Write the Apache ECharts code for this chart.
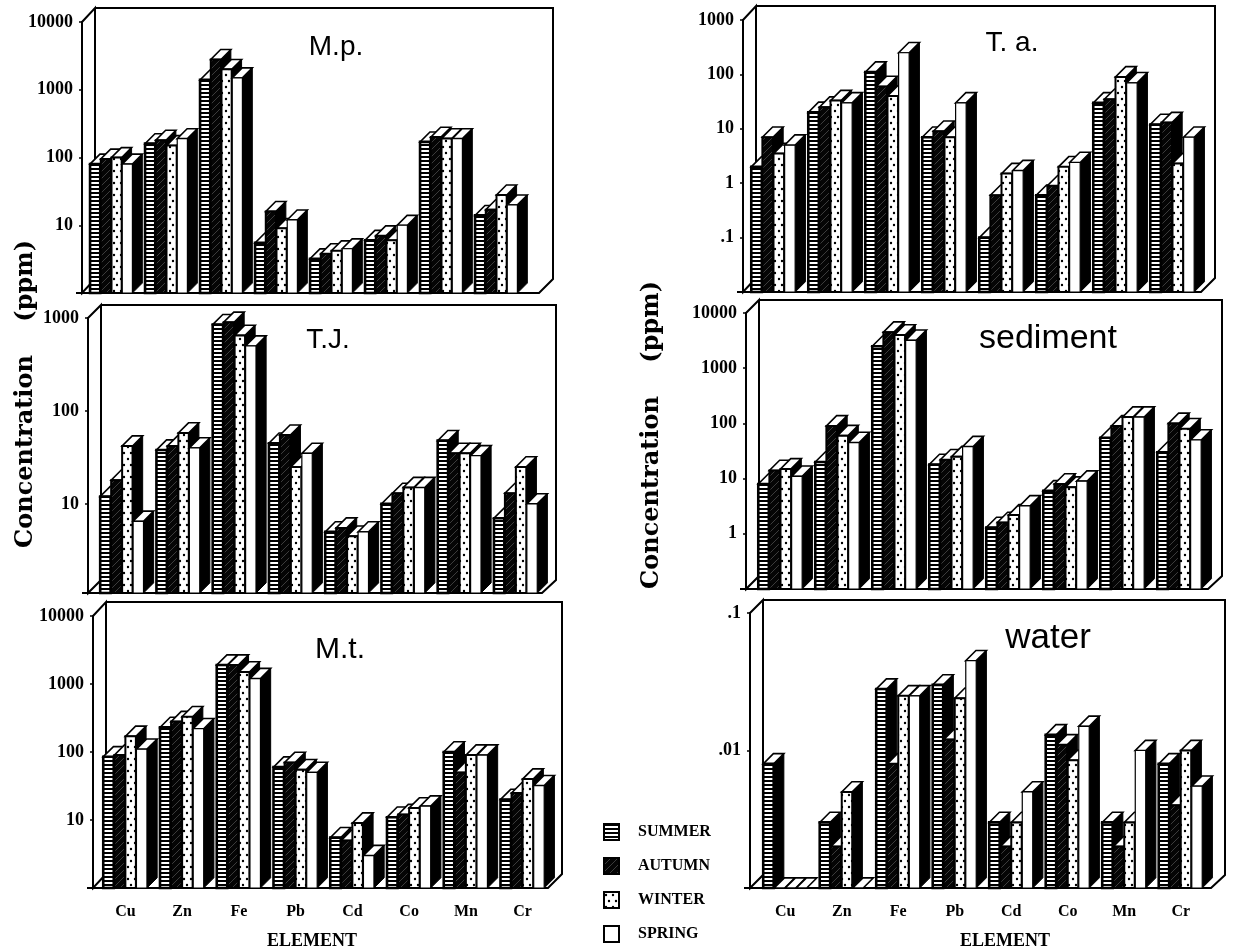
<!DOCTYPE html>
<html><head><meta charset="utf-8">
<style>html,body{margin:0;padding:0;background:#fff}#c{width:1233px;height:949px}</style>
<script src="https://cdn.jsdelivr.net/npm/echarts@6/dist/echarts.min.js"></script>
</head><body><div id="c"></div>
<script>
const elements = ['Cu','Zn','Fe','Pb','Cd','Co','Mn','Cr'];
const seasons = ['SUMMER','AUTUMN','WINTER','SPRING'];

const mpSummer = [80,160,1400,5.5,3.2,6,170,14];
const mpAutumn = [95,180,2800,16,3.8,7,200,17];
const mpWinter = [100,150,2000,9,4.2,6,190,28];
const mpSpring = [80,190,1500,12,4.5,10,190,20];
const mpTicks = [10,100,1000,10000];

const tjSummer = [12,38,850,45,5,10,48,7];
const tjAutumn = [18,42,900,55,5.5,13,35,13];
const tjWinter = [42,58,650,25,4.5,15,35,25];
const tjSpring = [6.5,40,500,35,5,15,33,10];
const tjTicks = [10,100,1000];

const mtSummer = [85,230,1900,60,5.5,11,100,20];
const mtAutumn = [90,280,1900,70,5,12,50,25];
const mtWinter = [170,330,1500,55,9,15,90,40];
const mtSpring = [110,220,1200,50,3,16,90,32];
const mtTicks = [10,100,1000,10000];

const taSummer = [2,20,110,7,0.1,0.6,30,12];
const taAutumn = [7,25,60,9,0.6,0.9,35,13];
const taWinter = [3.5,33,40,7,1.5,2,90,2.3];
const taSpring = [5,30,250,30,1.7,2.4,70,7];
const taTicks = [0.1,1,10,100,1000];

const sdSummer = [8,20,2500,18,1.3,6,55,30];
const sdAutumn = [14,90,4500,22,1.6,8,90,100];
const sdWinter = [15,60,4000,25,2.2,7,130,80];
const sdSpring = [11,45,3200,38,3.2,9,130,50];
const sdTicks = [1,10,100,1000,10000];

const wtSummer = [0.008,0.003,0.028,0.03,0.003,0.013,0.003,0.008];
const wtAutumn = [0.001,0.002,0.008,0.012,0.002,0.011,0.002,0.004];
const wtWinter = [0.001,0.005,0.025,0.024,0.003,0.0085,0.003,0.01];
const wtSpring = [0.001,0.001,0.025,0.045,0.005,0.015,0.01,0.0055];
const wtTicks = [0.01,0.1];

const panels = [
  {title:'M.p.',  s:[mpSummer,mpAutumn,mpWinter,mpSpring], ticks:mpTicks, min:1,    max:10000, axisX:82,  left:84,  width:440, top:22,  bottom:293, rightX:553, backTop:8,   tx:336, ty:47,  fs:28, labels:false, namePad:[0,0,0,0]},
  {title:'T.J.',  s:[tjSummer,tjAutumn,tjWinter,tjSpring], ticks:tjTicks, min:1.1,  max:1000,  axisX:88,  left:94,  width:450, top:318, bottom:593, rightX:556, backTop:305, tx:328, ty:340, fs:28, labels:false, namePad:[0,0,0,0]},
  {title:'M.t.',  s:[mtSummer,mtAutumn,mtWinter,mtSpring], ticks:mtTicks, min:1,    max:10000, axisX:93,  left:97,  width:454, top:616, bottom:888, rightX:562, backTop:602, tx:340, ty:650, fs:30, labels:true,  namePad:[0,24,0,0]},
  {title:'T. a.', s:[taSummer,taAutumn,taWinter,taSpring], ticks:taTicks, min:0.01, max:1000,  axisX:743, left:745, width:456, top:20,  bottom:292, rightX:1215,backTop:6,   tx:1012,ty:43,  fs:28, labels:false, namePad:[0,0,0,0]},
  {title:'sediment',s:[sdSummer,sdAutumn,sdWinter,sdSpring],ticks:sdTicks,min:0.1,  max:10000, axisX:746, left:752, width:456, top:313, bottom:589, rightX:1222,backTop:300, tx:1048,ty:339, fs:34, labels:false, namePad:[0,0,0,0]},
  {title:'water', s:[wtSummer,wtAutumn,wtWinter,wtSpring], ticks:wtTicks, min:0.001,max:0.1,   axisX:750, left:757, width:452, top:613, bottom:888, rightX:1225,backTop:600, tx:1048,ty:638, fs:35, labels:true,  namePad:[0,0,0,44]}
];

function canvas(w,h,draw){const c=document.createElement('canvas');c.width=w;c.height=h;draw(c.getContext('2d'));return c;}
const fills = [
  {image:canvas(4,4,g=>{g.fillStyle='#fff';g.fillRect(0,0,4,4);g.fillStyle='#000';g.fillRect(0,0,4,2);}),repeat:'repeat'},
  {image:canvas(7,7,g=>{g.fillStyle='#050505';g.fillRect(0,0,7,7);g.strokeStyle='#3c3c3c';g.lineWidth=1;g.beginPath();g.moveTo(0,7);g.lineTo(7,0);g.stroke();}),repeat:'repeat'},
  {image:canvas(7,12,g=>{g.fillStyle='#fff';g.fillRect(0,0,7,12);g.fillStyle='#000';g.beginPath();g.arc(2,3,1.2,0,7);g.arc(5,9,1.2,0,7);g.fill();}),repeat:'repeat'},
  '#fff'
];

function barRenderer(panel, season){
  return function(params, api){
    const cat = api.value(0), val = api.value(1);
    const top = api.coord([cat,val]);
    const base = api.coord([cat,panel.min]);
    const band = api.size([1,0])[0];
    const step = band*0.195, w = step*0.95, d = band*0.18;
    const x = top[0]-2*step+season*step, y = top[1], b = base[1];
    const children = [];
    if (b-y>0.5) children.push({type:'polygon',shape:{points:[[x+w,y],[x+w+d,y-d],[x+w+d,b-d],[x+w,b]]},style:{fill:'#000',stroke:'#000',lineWidth:1}});
    children.push({type:'polygon',shape:{points:[[x,y],[x+w,y],[x+w+d,y-d],[x+d,y-d]]},style:{fill:'#fff',stroke:'#000',lineWidth:1.6}});
    if (b-y>0.5) children.push({type:'rect',shape:{x:x,y:y,width:w,height:b-y},style:{fill:fills[season],stroke:'#000',lineWidth:season===0?2.6:(season===3?1.2:2)}});
    return {type:'group',children:children};
  };
}
function frameRenderer(panel){
  return function(params){
    const c = params.coordSys, bot=c.y+c.height, ax=panel.axisX;
    const bx=ax+13, dy=c.y-panel.backTop, fr=panel.rightX-14;
    const line={fill:null,stroke:'#000',lineWidth:2};
    return {type:'group',children:[
      {type:'polygon',shape:{points:[[ax,c.y],[bx,panel.backTop],[bx,bot-dy],[ax,bot]]},style:{fill:'#fff',stroke:'#000',lineWidth:2}},
      {type:'polyline',shape:{points:[[bx,panel.backTop],[panel.rightX,panel.backTop],[panel.rightX,bot-dy],[fr,bot],[ax-6,bot]]},style:line}
    ]};
  };
}

const grids=[],xAxes=[],yAxes=[],series=[],titles=[];
panels.forEach((p,i)=>{
  grids.push({left:p.left,top:p.top,width:p.width,height:p.bottom-p.top,outerBoundsMode:'none'});
  xAxes.push({type:'category',gridIndex:i,data:elements,axisLine:{show:false},axisTick:{show:false},
    axisLabel:{show:p.labels,margin:16,color:'#000',fontFamily:'Liberation Serif',fontWeight:'bold',fontSize:16},
    name:p.labels?'ELEMENT':'',nameLocation:'middle',nameGap:44,
    nameTextStyle:{color:'#000',fontFamily:'Liberation Serif',fontWeight:'bold',fontSize:18,padding:p.namePad}});
  yAxes.push({type:'log',logBase:10,gridIndex:i,min:p.min,max:p.max,offset:p.left-p.axisX,splitLine:{show:false},
    axisLine:{show:true,lineStyle:{color:'#000',width:2.5}},
    axisTick:{show:true,length:3,customValues:p.ticks,lineStyle:{color:'#000',width:1.5}},
    axisLabel:{margin:9,color:'#000',fontFamily:'Liberation Serif',fontWeight:'bold',fontSize:18,customValues:p.ticks,
      formatter:v=>v<1?String(+v).replace(/^0/,''):String(Math.round(v))}});
  titles.push({text:p.title,left:p.tx,top:p.ty-p.fs/2,padding:0,textAlign:'center',textStyle:{color:'#000',fontFamily:'Liberation Sans',fontWeight:'normal',fontSize:p.fs}});
  series.push({type:'custom',name:'frame'+i,xAxisIndex:i,yAxisIndex:i,clip:false,z:1,silent:true,data:[[0,p.max]],renderItem:frameRenderer(p),encode:{x:0,y:1}});
  p.s.forEach((vals,k)=>{
    series.push({type:'custom',name:seasons[k],xAxisIndex:i,yAxisIndex:i,clip:false,z:2+k,
      itemStyle:{color:fills[k],borderColor:'#000',borderWidth:2.5},
      renderItem:barRenderer(p,k),encode:{x:0,y:1},
      data:vals.map((v,c)=>[c,v])});
  });
});

const chart = echarts.init(document.getElementById('c'),null,{renderer:'canvas'});
chart.setOption({
  animation:false,backgroundColor:'#fff',
  title:titles,grid:grids,xAxis:xAxes,yAxis:yAxes,series:series,
  legend:{data:seasons,orient:'vertical',left:603,top:823,padding:0,itemWidth:15,itemHeight:16,itemGap:16,icon:'rect',selectedMode:false,
    textStyle:{color:'#000',fontFamily:'Liberation Serif',fontWeight:'bold',fontSize:16,padding:[0,0,0,14]}},
  graphic:[
    {type:'text',left:14,top:240,rotation:Math.PI/2,silent:true,style:{text:'Concentration    (ppm)',fill:'#000',font:'bold 24px "DejaVu Serif"'}},
    {type:'text',left:640,top:281,rotation:Math.PI/2,silent:true,style:{text:'Concentration    (ppm)',fill:'#000',font:'bold 24px "DejaVu Serif"'}}
  ]
});
</script></body></html>
